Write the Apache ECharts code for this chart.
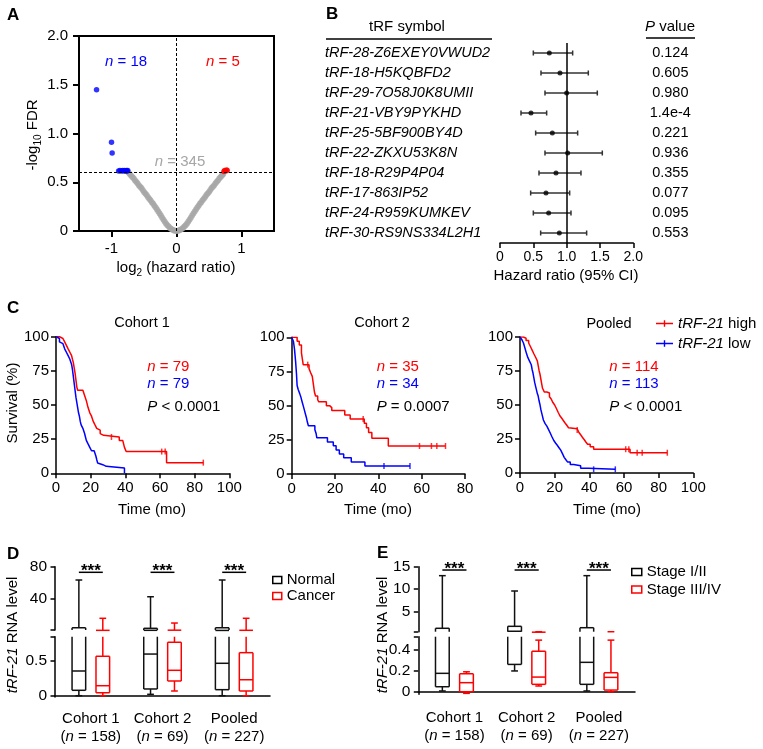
<!DOCTYPE html>
<html><head><meta charset="utf-8">
<script src="https://cdn.jsdelivr.net/npm/echarts@6/dist/echarts.min.js"></script>
<style>html,body{margin:0;padding:0;background:#fff}#c{width:763px;height:749px}</style>
</head><body><div id="c"></div>
<script>
// ================= DATA =================
// Panel A: volcano plot [log2 HR, -log10 FDR]
const volcanoGray = [[-0.74,0.60],[-0.72,0.585],[-0.70,0.57],[-0.68,0.555],[-0.66,0.54],[-0.64,0.52],[-0.62,0.505],[-0.60,0.49],[-0.58,0.47],[-0.56,0.455],[-0.54,0.44],[-0.52,0.42],[-0.50,0.40],[-0.48,0.385],[-0.46,0.37],[-0.44,0.35],[-0.42,0.33],[-0.40,0.315],[-0.38,0.295],[-0.36,0.28],[-0.34,0.26],[-0.32,0.24],[-0.30,0.22],[-0.28,0.20],[-0.26,0.18],[-0.24,0.16],[-0.22,0.135],[-0.20,0.115],[-0.18,0.095],[-0.16,0.075],[-0.14,0.06],[-0.12,0.045],[-0.10,0.03],[-0.08,0.02],[-0.06,0.012],[-0.04,0.006],[-0.02,0.002],[0,0],[0.02,0.002],[0.04,0.006],[0.06,0.012],[0.08,0.02],[0.10,0.03],[0.12,0.045],[0.14,0.06],[0.16,0.075],[0.18,0.095],[0.20,0.115],[0.22,0.135],[0.24,0.16],[0.26,0.18],[0.28,0.20],[0.30,0.22],[0.32,0.24],[0.34,0.26],[0.36,0.28],[0.38,0.295],[0.40,0.315],[0.42,0.33],[0.44,0.35],[0.46,0.37],[0.48,0.385],[0.50,0.40],[0.52,0.42],[0.54,0.44],[0.56,0.455],[0.58,0.47],[0.60,0.49],[0.62,0.505],[0.64,0.52],[0.66,0.54],[0.68,0.555],[0.70,0.57],[0.72,0.585]];
const volcanoBlue = [[-1.23,1.45],[-1.0,0.91],[-0.99,0.80],[-0.89,0.615],[-0.87,0.62],[-0.85,0.615],[-0.83,0.62],[-0.81,0.615],[-0.80,0.62],[-0.78,0.615],[-0.77,0.62],[-0.76,0.615],[-0.75,0.62]];
const volcanoRed = [[0.73,0.61],[0.74,0.62],[0.755,0.615],[0.77,0.625],[0.78,0.62]];
const fdrLine = 0.6;
const volcanoCounts = ['18', '5', '345'];

// Panel B: forest plot
const trfSymbols = ['tRF-28-Z6EXEY0VWUD2','tRF-18-H5KQBFD2','tRF-29-7O58J0K8UMII','tRF-21-VBY9PYKHD','tRF-25-5BF900BY4D','tRF-22-ZKXU53K8N','tRF-18-R29P4P04','tRF-17-863IP52','tRF-24-R959KUMKEV','tRF-30-RS9NS334L2H1'];
const hrPoint = [0.74,0.90,1.0,0.465,0.785,1.015,0.84,0.69,0.73,0.89];
const hrLow   = [0.50,0.615,0.675,0.315,0.535,0.675,0.585,0.46,0.50,0.61];
const hrHigh  = [1.09,1.325,1.46,0.70,1.165,1.535,1.215,1.045,1.065,1.30];
const pValues = ['0.124','0.605','0.980','1.4e-4','0.221','0.936','0.355','0.077','0.095','0.553'];

// Panel C: Kaplan-Meier steps [time (mo), survival %]
const c1High = [[0,100],[2,98.7],[4,97.5],[5,96.2],[6,93.7],[7,91.1],[8,88.6],[9,86.1],[9.5,83.5],[10,81],[10.5,77.2],[11,73.4],[11.5,68.4],[12,63.3],[12.5,60.8],[15.5,59.5],[16.5,57],[17.5,53.2],[18.5,48.1],[19.5,44.3],[20.5,41.8],[21.5,38],[22.5,35.4],[23.5,32.9],[24.5,31.6],[25.5,29.1],[26.5,27.8],[27.5,26.6],[36.5,24.1],[38.5,22.8],[39.5,19],[40.5,15.9],[63.8,7.8],[85,7.8]];
const c1HighCensor = [[32,26.6],[61,15.9],[63,15.9],[85,7.8]];
const c1Low = [[0,100],[1,98.7],[2,96.2],[3,94.9],[4,93.7],[5,91.1],[6,88.6],[7,86.1],[8,83.5],[9,79.7],[9.5,75.9],[10,70.9],[10.5,65.8],[11,60.8],[11.5,55.7],[12,51.9],[12.5,48.1],[13,44.3],[13.5,41.8],[14,38],[14.5,35.4],[15.5,32.9],[16.5,29.1],[17,26.6],[17.5,24.1],[18.5,21.5],[19.5,19],[20.5,16.5],[22,15.2],[23,12.7],[23.5,10.1],[24,7.6],[25,6.3],[27,5.1],[29,3.8],[39.5,0]];
const c2High = [[0,100],[2.5,97.1],[3.5,94.3],[4.5,88.6],[5.3,80],[8,77.1],[8.7,74.3],[9.5,71.4],[10,65.7],[10.5,60],[11,57.1],[12,54.3],[12.5,52.8],[16,50],[17.5,48.6],[18.5,46.4],[24.5,43.2],[27,40.2],[33.5,37.1],[34.5,33.9],[35.5,30.4],[37,26.1],[44.6,20.5],[71,20.5]];
const c2HighCensor = [[7.4,80],[33,40.2],[59,20.5],[64.5,20.5],[67,20.5],[71,20.5]];
const c2Low = [[0,100],[0.8,97.1],[1.3,91.2],[1.8,82.4],[2.2,73.5],[2.5,64.7],[3,61.8],[3.7,58.8],[4.3,55.9],[4.8,52.9],[5.3,50],[5.8,47.1],[6.3,44.1],[6.8,41.2],[7.2,38.2],[7.7,35.3],[10.7,32.4],[11.3,29.4],[11.6,26.5],[16.5,23.5],[19.2,20.6],[20.5,17.6],[22,14.7],[24,11.8],[27.5,8.8],[33.8,5.9],[54.6,5.9]];
const c2LowCensor = [[42.6,5.9],[54.6,5.9]];
const poolHigh = [[0,100],[2,99.1],[3.5,97.4],[5,95.6],[6,93],[7,90.4],[8,87.7],[9,85.1],[10,82.5],[10.5,78.9],[11,75.4],[11.5,72.8],[12,69.3],[12.5,65.8],[13,62.3],[14,59.6],[15.5,58.8],[17,56.1],[18,54.4],[19,51.8],[20,50],[21,47.4],[22,44.7],[23,42.1],[24,40.4],[25,38.6],[26,36.8],[27,35.1],[28,33.3],[29,32.5],[33,31.6],[34,29.8],[35,28.1],[36,26.3],[37,24.6],[38,22.8],[39,21.1],[40.5,19.3],[42.5,17.5],[63.5,14.9],[85,14.9]];
const poolHighCensor = [[33,31.6],[61,17.5],[62.8,17.5],[67.6,14.9],[70.5,14.9],[85,14.9]];
const poolLow = [[0,100],[1,98.2],[2,95.6],[3,91.2],[3.8,87.6],[4.5,85],[5.5,82.3],[6.5,79.6],[7,76.1],[7.5,73.5],[8,70],[8.5,66.4],[9,63.7],[9.5,61.1],[10,58.4],[10.5,56.6],[11,53.1],[11.5,50.4],[12,46.9],[12.5,44.2],[13,41.6],[13.5,39],[14.5,36.3],[15.5,34.5],[16.5,31.9],[17.5,29.2],[18.5,26.5],[19.5,23.9],[20.5,22.1],[21.5,20.4],[22.5,18.6],[23.5,16.8],[24.5,14.2],[25.5,11.5],[26.5,9.7],[27.5,8],[29,6.2],[31,5.3],[35,3.5],[39.5,2.7],[55,2.7]];
const poolLowCensor = [[42.5,2.7],[55,2.7]];
const kmTitles = ['Cohort 1','Cohort 2','Pooled'];
const kmN = [['79','79'],['35','34'],['114','113']];
const kmP = ['< 0.0001','= 0.0007','< 0.0001'];

// Panels D/E: box plots [min, q1, median, q3, max]
const boxCats = ['Cohort 1','Cohort 2','Pooled'];
const boxN = ['158','69','227'];
const dNormal = [[0,0.078,0.356,3.8,63.4],[0.02,0.097,0.60,3.1,42.5],[0,0.087,0.467,3.8,63.4]];
const dCancer = [[0,0.043,0.144,0.568,15.6],[0.068,0.212,0.366,0.77,9.7],[0,0.068,0.23,0.62,15.6]];
const eStage12 = [[0.007,0.048,0.177,1.26,13.0],[0.2,0.263,0.6,1.7,9.58],[0.007,0.071,0.283,1.39,13.0]];
const eStage34 = [[-0.016,0,0.087,0.173,0.192],[0.055,0.071,0.141,0.39,0.497],[0,0.016,0.138,0.183,0.497]];
const dSigLevel = 73, eSigLevel = 14.26;

// ================= CHART =================
const FONT = "'Liberation Sans', Arial, Helvetica, sans-serif";
const RED = '#ff0000', BLUE = '#0000ff', GRAY = '#a6a6a6', BLK = '#000';
const chart = echarts.init(document.getElementById('c'), null, {renderer: 'canvas'});

function vAxis(o) {
  return {
    type: 'value', gridIndex: o.g, min: o.min, max: o.max, interval: o.interval, position: o.position,
    axisLine: {show: true, onZero: false, lineStyle: {color: BLK, width: o.lw || 1.5}},
    axisTick: {show: true, length: o.tl || 5, customValues: o.ticks, lineStyle: {color: BLK, width: o.lw || 1.5}},
    axisLabel: {color: BLK, fontSize: o.fs || 15, fontFamily: FONT, margin: o.margin || 7, formatter: o.fmt, customValues: o.labels},
    splitLine: {show: false}
  };
}
const fmt1 = v => v === 0 ? '0' : v.toFixed(1);

function boxRender(side, color) {
  return function (params, api) {
    const cat = api.value(0);
    const band = api.size([1, 0])[0];
    const cs = params.coordSys;
    const top = cs.y, bot = cs.y + cs.height;
    const cx = api.coord([cat, 0])[0] + side * 0.167 * band;
    const hw = 0.095 * band, cw = 0.047 * band;
    const Y = v => api.coord([cat, v])[1];
    const inR = y => y >= top - 0.5 && y <= bot + 0.5;
    const cl = y => Math.max(top, Math.min(bot, y));
    const mn = Y(api.value(1)), q1 = Y(api.value(2)), md = Y(api.value(3)), q3 = Y(api.value(4)), mx = Y(api.value(5));
    const ch = [];
    const style = {stroke: color, lineWidth: 1.5, fill: null};
    const seg = (x1, y1, x2, y2) => { if (Math.abs(x1 - x2) + Math.abs(y1 - y2) > 0.3) ch.push({type: 'line', shape: {x1, y1, x2, y2}, style}); };
    seg(cx, cl(mn), cx, cl(q1));
    if (inR(mn)) seg(cx - cw, mn, cx + cw, mn);
    seg(cx, cl(q3), cx, cl(mx));
    if (inR(mx)) seg(cx - cw, mx, cx + cw, mx);
    seg(cx - hw, cl(q1), cx - hw, cl(q3));
    seg(cx + hw, cl(q1), cx + hw, cl(q3));
    if (inR(q1)) seg(cx - hw, q1, cx + hw, q1);
    if (inR(q3)) seg(cx - hw, q3, cx + hw, q3);
    if (inR(md)) seg(cx - hw, md, cx + hw, md);
    return {type: 'group', children: ch};
  };
}
function sigRender(params, api) {
  const cat = api.value(0);
  const band = api.size([1, 0])[0];
  const cx = api.coord([cat, 0])[0];
  const y = api.coord([cat, api.value(1)])[1];
  return {type: 'group', children: [
    {type: 'line', shape: {x1: cx - 0.167 * band, y1: y, x2: cx + 0.167 * band, y2: y}, style: {stroke: BLK, lineWidth: 1.5}},
    {type: 'text', style: {text: '***', x: cx, y: y - 1, align: 'center', verticalAlign: 'middle', fontSize: 17, fontWeight: 'bold', fontFamily: FONT, fill: BLK}}
  ]};
}
const boxData = arr => arr.map((r, i) => [i].concat(r));
function boxSeries(name, arr, side, color, xi) {
  return [xi, xi + 1].map(k => ({
    type: 'custom', name, xAxisIndex: k, yAxisIndex: k, renderItem: boxRender(side, color),
    encode: {x: 0, y: [1, 2, 3, 4, 5]}, data: boxData(arr), clip: false
  }));
}

function kmLine(name, data, color, k) {
  return {type: 'line', name, step: 'end', data, xAxisIndex: k, yAxisIndex: k, symbol: 'none', showSymbol: false,
    lineStyle: {color, width: 1.5}, itemStyle: {color}, silent: true};
}
function kmCensor(data, color, k) {
  return {type: 'scatter', name: 'censor', data, xAxisIndex: k, yAxisIndex: k, symbol: 'rect', symbolSize: [1.5, 6],
    itemStyle: {color}, silent: true};
}

const ital = (fs, color) => ({fontStyle: 'italic', fontSize: fs, fontFamily: FONT, fill: color});
function T(x, y, text, o) {
  o = o || {};
  const fs = o.fs || 15, color = o.color || BLK;
  return {type: 'text', x, y, rotation: o.rot || 0, silent: true, z: 50,
    style: {text, x: 0, y: 0, fill: color, fontSize: fs, fontFamily: FONT, fontWeight: o.bold ? 'bold' : 'normal',
      align: o.align || 'center', verticalAlign: 'middle',
      rich: {i: ital(fs, color), s: {fontSize: Math.round(fs * 0.68), fontFamily: FONT, fill: color, verticalAlign: 'bottom', padding: [0, 0, -3, 0]}}}};
}
const L = (x1, y1, x2, y2) => ({type: 'line', silent: true, shape: {x1, y1, x2, y2}, style: {stroke: BLK, lineWidth: 1.5}});

const kmAnnX = [147.3, 376.7, 609.3];
const graphics = [
  T(7, 15, 'A', {bold: true, fs: 17, align: 'left'}),
  T(33, 135, '-log{s|10} FDR', {rot: Math.PI / 2}),
  T(176, 268, 'log{s|2} (hazard ratio)'),
  T(126, 62, '{i|n} = ' + volcanoCounts[0], {color: BLUE}),
  T(223, 62, '{i|n} = ' + volcanoCounts[1], {color: RED}),
  T(180, 162, '{i|n} = ' + volcanoCounts[2], {color: GRAY}),
  T(326, 14, 'B', {bold: true, fs: 17, align: 'left'}),
  T(407, 27, 'tRF symbol'),
  T(670, 27, '{i|P} value'),
  L(326, 39, 492, 39), L(646, 38, 695, 38),
  T(566, 276, 'Hazard ratio (95% CI)'),
  T(7, 308.5, 'C', {bold: true, fs: 17, align: 'left'}),
  T(13, 403, 'Survival (%)', {rot: Math.PI / 2}),
  T(142, 323, kmTitles[0], {fs: 14.5}), T(382, 323, kmTitles[1], {fs: 14.5}), T(609, 324, kmTitles[2], {fs: 14.5}),
  T(152, 510, 'Time (mo)'), T(378, 510, 'Time (mo)'), T(607, 510, 'Time (mo)'),
  T(7, 554, 'D', {bold: true, fs: 17, align: 'left'}),
  T(12.5, 635, '{i|tRF-21} RNA level', {rot: Math.PI / 2}),
  T(377, 553, 'E', {bold: true, fs: 17, align: 'left'}),
  T(382.5, 635, '{i|tRF-21} RNA level', {rot: Math.PI / 2})
];
for (let k = 0; k < 3; k++) {
  graphics.push(T(kmAnnX[k], 366.5, '{i|n} = ' + kmN[k][0], {color: RED, align: 'left'}));
  graphics.push(T(kmAnnX[k], 384.3, '{i|n} = ' + kmN[k][1], {color: BLUE, align: 'left'}));
  graphics.push(T(kmAnnX[k], 406.5, '{i|P} ' + kmP[k], {align: 'left'}));
}

const catAxis = (g, show, offset) => ({
  type: 'category', gridIndex: g, data: boxCats, show, offset: offset || 0,
  axisLine: {lineStyle: {color: BLK, width: 1.5}},
  axisTick: {length: 5, lineStyle: {color: BLK, width: 1.5}},
  axisLabel: {interval: 0, margin: 8, color: BLK, fontSize: 15, fontFamily: FONT, lineHeight: 18,
    formatter: (v, i) => v + '\n({i|n} = ' + boxN[i] + ')',
    rich: {i: {fontStyle: 'italic', fontSize: 15, fontFamily: FONT, color: BLK, lineHeight: 18}}}
});

const KMICON = 'path://M0,3H17V4.5H0Z M7.8,0.5H9.2V7H7.8Z';
const legText = {fontSize: 15, fontFamily: FONT, color: BLK, rich: {i: {fontStyle: 'italic', fontSize: 15, fontFamily: FONT, color: BLK}}};

const option = {
  animation: false,
  backgroundColor: '#fff',
  textStyle: {fontFamily: FONT},
  graphic: graphics,
  grid: [
    {left: 79, top: 36, width: 195, height: 195, show: true, borderColor: BLK, borderWidth: 2},
    {left: 500, top: 43, width: 133.3, height: 200},
    {left: 56, top: 336.7, width: 173.3, height: 136.6},
    {left: 291.7, top: 337.3, width: 173.3, height: 136.7},
    {left: 520, top: 337, width: 173.3, height: 136},
    {left: 55, top: 566.7, width: 215, height: 63.3},
    {left: 55, top: 636.7, width: 215, height: 60.4},
    {left: 418.3, top: 566.7, width: 216.7, height: 65},
    {left: 418.3, top: 636.7, width: 216.7, height: 57.6}
  ],
  xAxis: [
    vAxis({g: 0, min: -1.5, max: 1.5, lw: 2, tl: 6, margin: 10, ticks: [-1, 0, 1], labels: [-1, 0, 1], fmt: v => String(v)}),
    vAxis({g: 1, min: 0, max: 2, interval: 0.5, fs: 14, fmt: fmt1}),
    vAxis({g: 2, min: 0, max: 100, interval: 20}),
    vAxis({g: 3, min: 0, max: 80, interval: 20}),
    vAxis({g: 4, min: 0, max: 100, interval: 20}),
    catAxis(5, false), catAxis(6, true, 4.6),
    catAxis(7, false), catAxis(8, true, 6.7)
  ],
  yAxis: [
    vAxis({g: 0, min: 0, max: 2, interval: 0.5, lw: 2, tl: 6, margin: 11, fmt: fmt1}),
    {type: 'category', gridIndex: 1, data: trfSymbols, inverse: true,
      axisLine: {show: false}, axisTick: {show: false},
      axisLabel: {align: 'left', margin: 175, fontStyle: 'italic', fontSize: 14.5, fontFamily: FONT, color: BLK}},
    vAxis({g: 2, min: 0, max: 100, interval: 25}),
    vAxis({g: 3, min: 0, max: 100, interval: 25}),
    vAxis({g: 4, min: 0, max: 100, interval: 25}),
    vAxis({g: 5, min: 1, max: 80, ticks: [1, 40, 80], labels: [40, 80], fs: 15.5, margin: 8, tl: 4.5}),
    vAxis({g: 6, min: -0.02, max: 0.85, ticks: [0, 0.5, 0.85], labels: [0, 0.5], fs: 15.5, margin: 8, tl: 4.5, fmt: v => v === 0 ? '0' : String(v)}),
    vAxis({g: 7, min: 0.5, max: 15, ticks: [0.5, 5, 10, 15], labels: [5, 10, 15], fs: 15.5, margin: 8, tl: 4.5, fmt: v => String(v)}),
    vAxis({g: 8, min: -0.025, max: 0.53, ticks: [0, 0.2, 0.4, 0.53], labels: [0, 0.2, 0.4], fs: 15.5, margin: 8, tl: 4.5, fmt: fmt1}),
    {type: 'category', gridIndex: 1, data: pValues, inverse: true, position: 'right',
      axisLine: {show: false}, axisTick: {show: false},
      axisLabel: {align: 'center', margin: 37, fontSize: 14.5, fontFamily: FONT, color: BLK}}
  ],
  legend: [
    {data: [{name: 'tRF-21 high', icon: KMICON, itemStyle: {color: RED, borderWidth: 0}},
            {name: 'tRF-21 low', icon: KMICON, itemStyle: {color: BLUE, borderWidth: 0}}],
      left: 656, top: 316, padding: 0, orient: 'vertical', itemWidth: 17, itemHeight: 7, itemGap: 5,
      formatter: n => '{i|tRF-21} ' + n.split(' ')[1], textStyle: legText, selectedMode: false},
    {data: [{name: 'Normal', icon: 'rect', itemStyle: {color: '#fff', borderColor: BLK, borderWidth: 1.5}},
            {name: 'Cancer', icon: 'rect', itemStyle: {color: '#fff', borderColor: RED, borderWidth: 1.5}}],
      left: 272, top: 572.5, padding: 0, orient: 'vertical', itemWidth: 9, itemHeight: 7, itemGap: 1, textStyle: legText, selectedMode: false},
    {data: [{name: 'Stage I/II', icon: 'rect', itemStyle: {color: '#fff', borderColor: BLK, borderWidth: 1.5}},
            {name: 'Stage III/IV', icon: 'rect', itemStyle: {color: '#fff', borderColor: RED, borderWidth: 1.5}}],
      left: 631, top: 564.5, padding: 0, orient: 'vertical', itemWidth: 10, itemHeight: 7, itemGap: 2.5, textStyle: legText, selectedMode: false}
  ],
  series: [
    // Panel A
    {type: 'scatter', name: 'ns', data: volcanoGray, symbolSize: 6, itemStyle: {color: GRAY}, silent: true,
      markLine: {silent: true, symbol: ['none', 'none'], label: {show: false},
        lineStyle: {type: [3, 2], color: BLK, width: 1},
        data: [{xAxis: 0}, {yAxis: fdrLine}]}},
    {type: 'scatter', name: 'down', data: volcanoBlue, symbolSize: 5.5, itemStyle: {color: BLUE}, silent: true},
    {type: 'scatter', name: 'up', data: volcanoRed, symbolSize: 5.5, itemStyle: {color: RED}, silent: true},
    // Panel B
    {type: 'custom', name: 'ci', xAxisIndex: 1, yAxisIndex: 1, encode: {x: [0, 1], y: 2},
      data: hrLow.map((v, i) => [v, hrHigh[i], i]),
      renderItem: (params, api) => {
        const p1 = api.coord([api.value(0), api.value(2)]);
        const p2 = api.coord([api.value(1), api.value(2)]);
        const st = {stroke: '#333', lineWidth: 1.5};
        return {type: 'group', children: [
          {type: 'line', shape: {x1: p1[0], y1: p1[1], x2: p2[0], y2: p2[1]}, style: st},
          {type: 'line', shape: {x1: p1[0], y1: p1[1] - 2.5, x2: p1[0], y2: p1[1] + 2.5}, style: st},
          {type: 'line', shape: {x1: p2[0], y1: p2[1] - 2.5, x2: p2[0], y2: p2[1] + 2.5}, style: st}
        ]};
      }},
    {type: 'scatter', name: 'hr', xAxisIndex: 1, yAxisIndex: 1, data: hrPoint.map((v, i) => [v, i]), symbolSize: 5,
      itemStyle: {color: BLK}, silent: true, z: 5,
      markLine: {silent: true, symbol: ['none', 'none'], label: {show: false}, lineStyle: {type: 'solid', color: BLK, width: 1.5},
        data: [{xAxis: 1}]}},
    // Panel C
    kmLine('tRF-21 high', c1High, RED, 2), kmLine('tRF-21 low', c1Low, BLUE, 2),
    kmCensor(c1HighCensor, RED, 2),
    kmLine('tRF-21 high', c2High, RED, 3), kmLine('tRF-21 low', c2Low, BLUE, 3),
    kmCensor(c2HighCensor, RED, 3), kmCensor(c2LowCensor, BLUE, 3),
    kmLine('tRF-21 high', poolHigh, RED, 4), kmLine('tRF-21 low', poolLow, BLUE, 4),
    kmCensor(poolHighCensor, RED, 4), kmCensor(poolLowCensor, BLUE, 4),
    // Panel D
    ...boxSeries('Normal', dNormal, -1, '#111', 5),
    ...boxSeries('Cancer', dCancer, 1, RED, 5),
    {type: 'custom', name: 'sigD', xAxisIndex: 5, yAxisIndex: 5, renderItem: sigRender, data: [[0, dSigLevel], [1, dSigLevel], [2, dSigLevel]], clip: false},
    // Panel E
    ...boxSeries('Stage I/II', eStage12, -1, '#111', 7),
    ...boxSeries('Stage III/IV', eStage34, 1, RED, 7),
    {type: 'custom', name: 'sigE', xAxisIndex: 7, yAxisIndex: 7, renderItem: sigRender, data: [[0, eSigLevel], [1, eSigLevel], [2, eSigLevel]], clip: false}
  ]
};
chart.setOption(option);
</script>
</body></html>
